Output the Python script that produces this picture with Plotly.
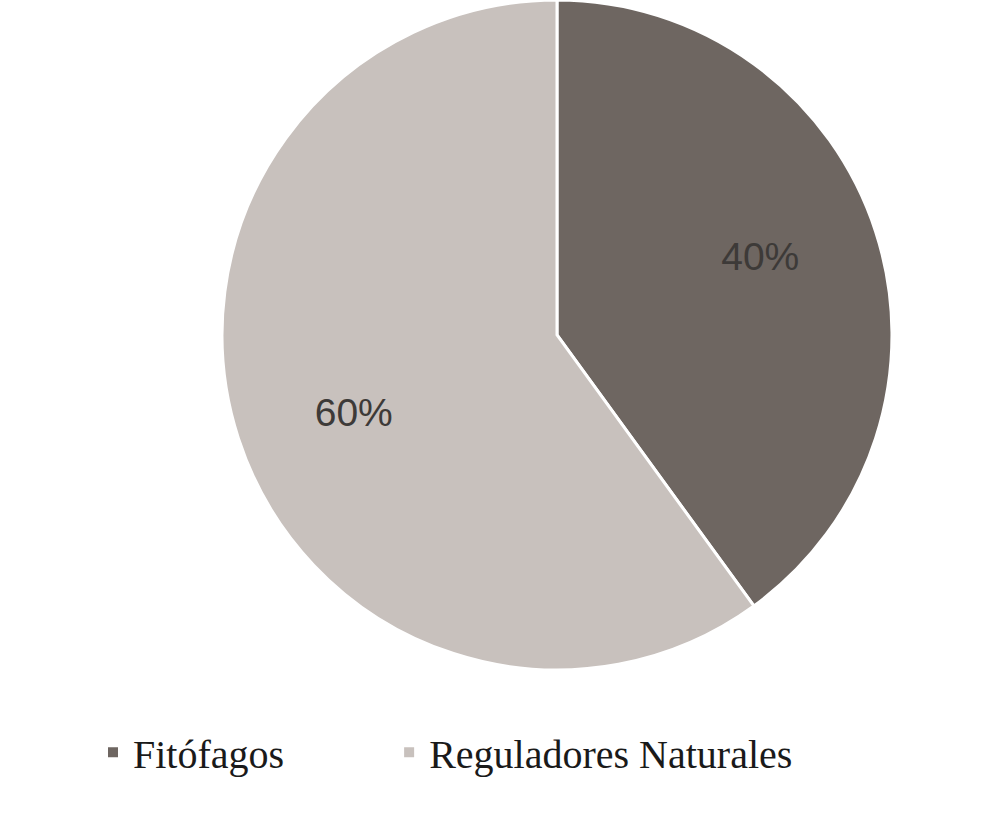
import plotly.graph_objects as go

# Data
categories = ["Fitófagos", "Reguladores Naturales"]
shares = [40, 60]
colors = ["#6e6661", "#c8c1bd"]

# legend text: pad the first entry so the second one starts further right
legend_labels = [categories[0] + "\u00a0" * 10, categories[1]]

pie_domain = dict(x=[0.222, 0.892], y=[0.178, 1.0])

fig = go.Figure()

# filled slices
fig.add_trace(go.Pie(
    labels=legend_labels,
    values=shares,
    sort=False,
    direction="clockwise",
    rotation=0,
    marker=dict(colors=colors, line=dict(color="white", width=3)),
    textinfo="none",
    domain=pie_domain,
    hovertext=categories,
    hoverinfo="text+percent",
))

# transparent ring carrying the percentage labels
fig.add_trace(go.Pie(
    labels=legend_labels,
    values=shares,
    sort=False,
    direction="clockwise",
    rotation=-3,
    hole=0.3,
    marker=dict(colors=["rgba(0,0,0,0)"] * len(shares), line=dict(width=0)),
    texttemplate="%{value}%",
    textposition="inside",
    insidetextorientation="horizontal",
    insidetextfont=dict(family="Liberation Sans, Arial", size=39, color="#3d3a38"),
    domain=pie_domain,
    showlegend=False,
    hoverinfo="skip",
))

fig.update_layout(
    width=1000,
    height=815,
    margin=dict(l=0, r=0, t=0, b=0),
    paper_bgcolor="white",
    plot_bgcolor="white",
    showlegend=True,
    legend=dict(
        orientation="h",
        x=0.093,
        xanchor="left",
        y=0.077,
        yanchor="middle",
        font=dict(family="Liberation Serif, Times New Roman", size=40, color="#1a1a1a"),
        itemsizing="constant",
    ),
)

fig.write_html(
    "out.html",
    config={"displayModeBar": False},
    post_script="document.body.style.margin='0';",
)
